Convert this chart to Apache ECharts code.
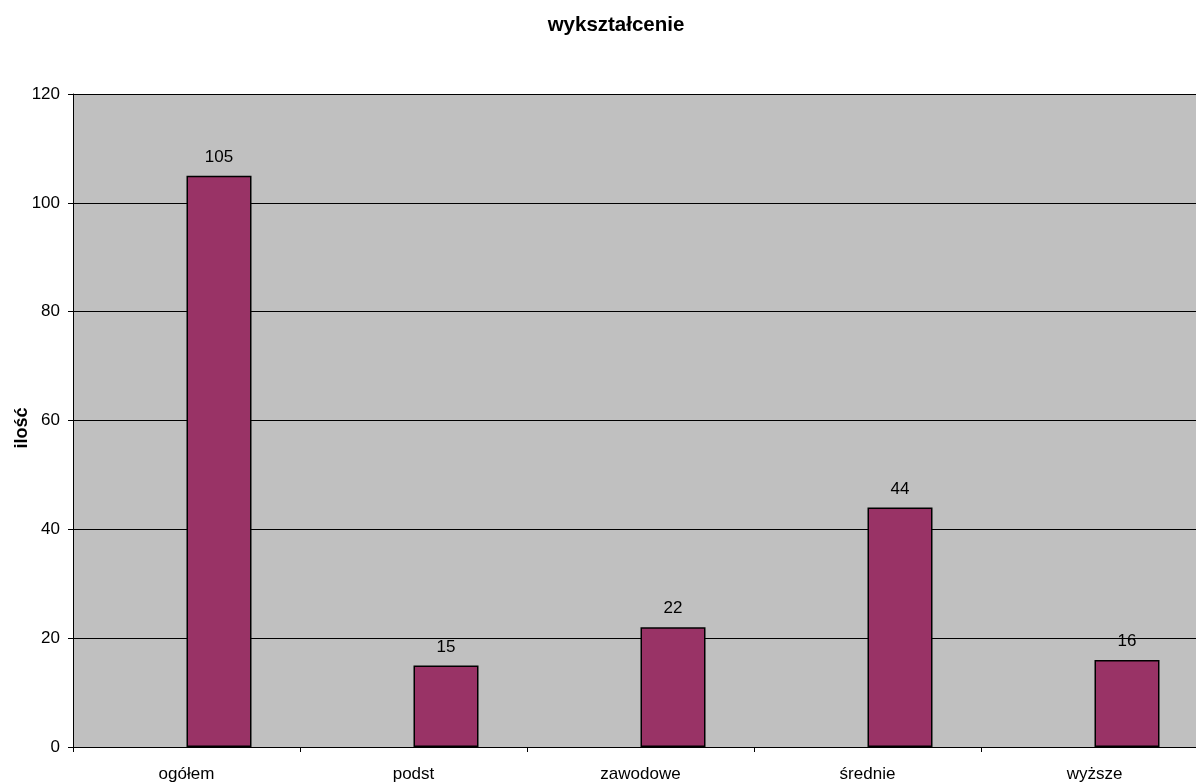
<!DOCTYPE html>
<html>
<head>
<meta charset="utf-8">
<script src="https://cdn.jsdelivr.net/npm/echarts@6/dist/echarts.min.js"></script>
<style>
html,body{margin:0;padding:0;background:#fff;}
#chart{width:1196px;height:782px;}
</style>
</head>
<body>
<div id="chart"></div>
<script>
const title = 'wykształcenie';
const yAxisTitle = 'ilość';
const categories = ['ogółem', 'podst', 'zawodowe', 'średnie', 'wyższe'];
const emptySeries = [null, null, null, null, null];
const values = [105, 15, 22, 44, 16];
const yMin = 0, yMax = 120, yStep = 20;

const font = 'Liberation Sans, Arial, sans-serif';
const chart = echarts.init(document.getElementById('chart'), null, {renderer: 'canvas'});
chart.setOption({
  animation: false,
  backgroundColor: '#ffffff',
  title: {
    text: title,
    left: 611,
    top: 10,
    textAlign: 'center',
    textStyle: {fontFamily: font, fontSize: 20.5, fontWeight: 'bold', color: '#000'}
  },
  grid: {
    left: 73, top: 94, right: -12, bottom: 35,
    outerBoundsMode: 'none',
    containLabel: false,
    show: true, backgroundColor: '#C0C0C0', borderWidth: 0
  },
  xAxis: {
    type: 'category',
    data: categories,
    axisLine: {lineStyle: {color: '#000', width: 1}},
    axisTick: {show: true, length: 5, lineStyle: {color: '#000'}},
    axisLabel: {margin: 19, color: '#000', fontFamily: font, fontSize: 17},
    splitLine: {show: false}
  },
  yAxis: {
    type: 'value',
    min: yMin, max: yMax, interval: yStep,
    name: yAxisTitle,
    nameLocation: 'middle',
    nameGap: 42,
    nameMoveOverlap: false,
    nameTextStyle: {fontFamily: font, fontSize: 18, fontWeight: 'bold', color: '#000', padding: [0, 15, 0, 0]},
    axisLine: {show: true, lineStyle: {color: '#000', width: 1}},
    axisTick: {show: true, length: 5, lineStyle: {color: '#000'}},
    axisLabel: {margin: 13, color: '#000', fontFamily: font, fontSize: 17},
    splitLine: {show: true, lineStyle: {color: '#000', width: 1}}
  },
  series: [
    {
      type: 'bar',
      data: emptySeries,
      barWidth: 65,
      barGap: '0%'
    },
    {
      type: 'bar',
      data: values,
      barWidth: 65,
      barGap: '0%',
      itemStyle: {color: '#993366', borderColor: '#000', borderWidth: 1.5},
      label: {
        show: true, position: 'top', distance: 10,
        color: '#000', fontFamily: font, fontSize: 17
      }
    }
  ]
});
</script>
</body>
</html>
